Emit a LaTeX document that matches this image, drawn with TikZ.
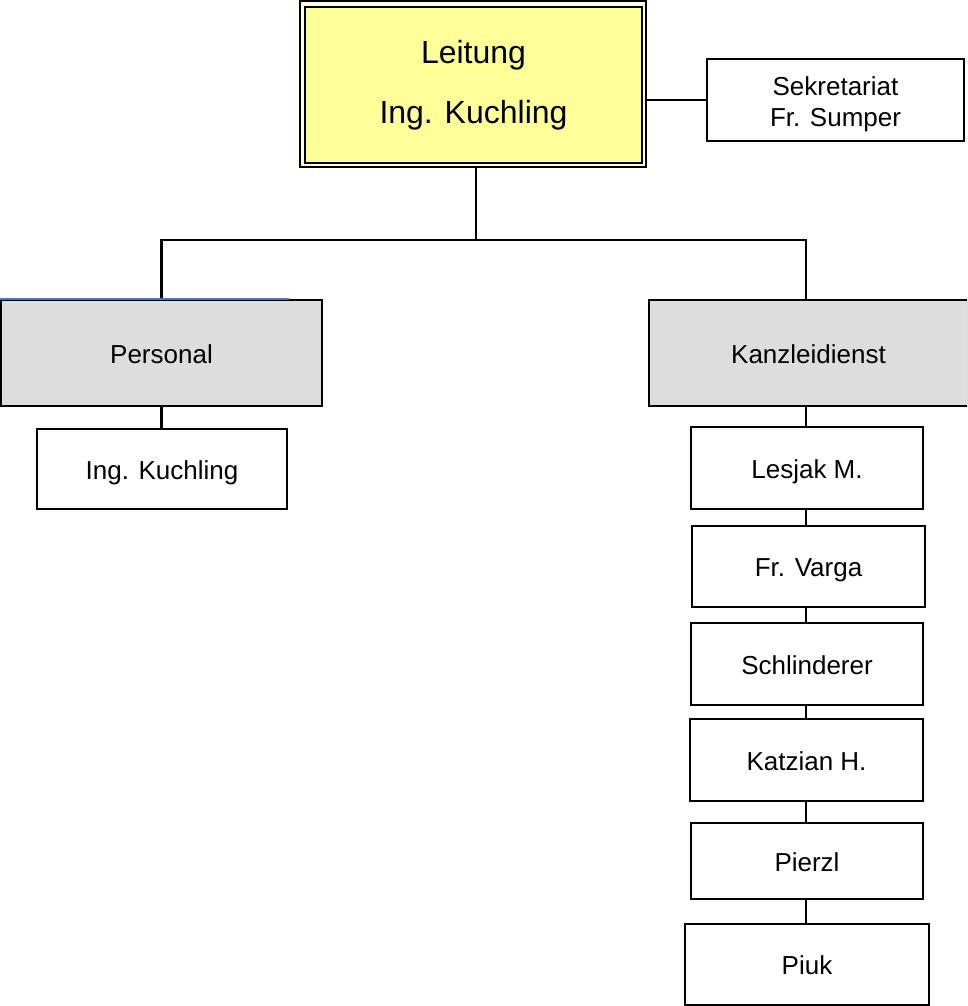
\documentclass[tikz,border=0pt]{standalone}
\usepackage{fontspec}
\setmainfont{Liberation Sans}
\definecolor{leadyellow}{HTML}{FFFF99}
\definecolor{paleyellow}{HTML}{FFFFD8}
\definecolor{boxgray}{HTML}{DDDDDD}
\definecolor{topblue}{HTML}{4A76B8}
\begin{document}
\begin{tikzpicture}[x=1pt,y=-1pt,
  box/.style={draw=black, line width=2.2pt, inner sep=0pt, fill=white,
    font=\fontsize{26}{32}\selectfont, align=center},
  onebox/.style={box, text height=26pt, text depth=5.5pt},
  gbox/.style={onebox, fill=boxgray},
  conn/.style={line width=2.2pt, black}]
\useasboundingbox (0,0) rectangle (967,1006);
\clip (0,0) rectangle (967,1006);

% top box (double border)
\node[box, fill=paleyellow, minimum width=346pt, minimum height=166pt] (topout) at (473,84) {};
\node[box, fill=leadyellow, minimum width=337pt, minimum height=156pt,
  font=\fontsize{32}{60}\selectfont] (top) at (473.5,85) {Leitung\\Ing. Kuchling};

\node[box, minimum width=257pt, minimum height=82pt, text height=54pt, text depth=0pt] (sek) at (835.5,100) {Sekretariat\\Fr. Sumper};

\node[gbox, minimum width=321pt, minimum height=106pt] (pers) at (161.5,353) {Personal};
\node[gbox, minimum width=319pt, minimum height=106pt] (kz) at (808.5,353) {Kanzleidienst};

\node[onebox, minimum width=250pt, minimum height=80pt] (ing) at (162,469) {Ing. Kuchling};
\node[onebox, minimum width=232pt, minimum height=82pt] (les) at (807,468) {Lesjak M.};
\node[onebox, minimum width=233pt, minimum height=81pt] (var) at (808.5,566.5) {Fr. Varga};
\node[onebox, minimum width=232pt, minimum height=82pt] (sch) at (807,664) {Schlinderer};
\node[onebox, minimum width=233pt, minimum height=82pt] (kat) at (806.5,760) {Katzian H.};
\node[onebox, minimum width=232pt, minimum height=76pt] (pie) at (807,861) {Pierzl};
\node[onebox, minimum width=244pt, minimum height=81pt] (piu) at (807,964.5) {Piuk};

\coordinate (bar) at (476,240);
\coordinate (sp) at (806,0);

\draw[conn] (sek.west -| topout.east) -- (sek.west);
\draw[conn] (bar |- topout.south) -- (bar);
\draw[conn] (pers.north) |- (bar) -| (sp |- kz.north);
\draw[conn] (pers.south) -- (pers.south |- ing.north);
\draw[conn] (sp |- kz.south) -- (sp |- les.north);
\draw[conn] (sp |- les.south) -- (sp |- var.north);
\draw[conn] (sp |- var.south) -- (sp |- sch.north);
\draw[conn] (sp |- sch.south) -- (sp |- kat.north);
\draw[conn] (sp |- kat.south) -- (sp |- pie.north);
\draw[conn] (sp |- pie.south) -- (sp |- piu.north);

% blue segment on top of Personal
\draw[topblue, line width=2.2pt] (pers.north west) -- ++(289,0);
\end{tikzpicture}
\end{document}
